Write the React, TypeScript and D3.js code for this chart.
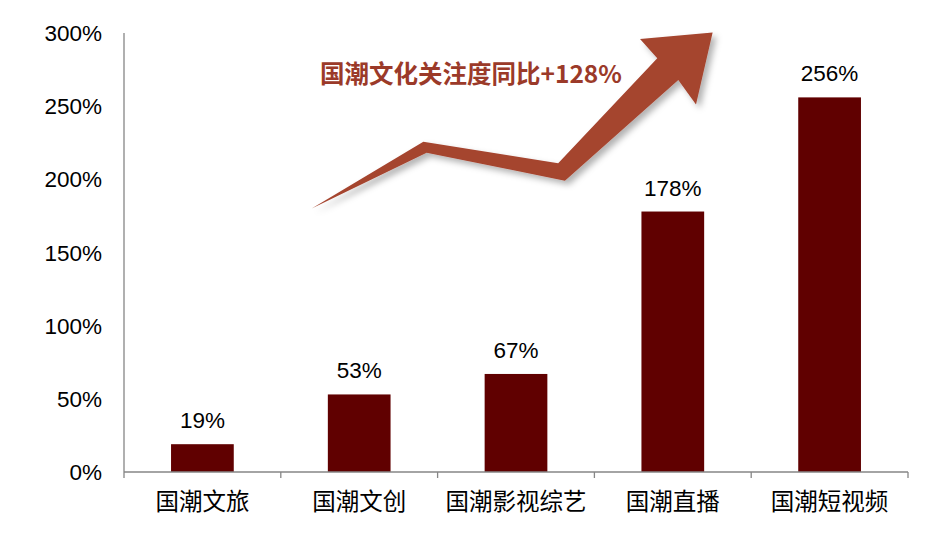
import React from 'react';
import * as d3 from 'd3';

const categories = ['国潮文旅', '国潮文创', '国潮影视综艺', '国潮直播', '国潮短视频'];
const values = [19, 53, 67, 178, 256];
const yTicks = [0, 50, 100, 150, 200, 250, 300];
const annotation = '国潮文化关注度同比+128%';

// arrow outline in chart units: [category position, percent]
const arrowU = [1.197, 1.909, 2.769, 3.401, 3.291, 3.754, 3.648, 3.535, 2.812, 1.93];
const arrowV = [180, 225.7, 211, 282.7, 295.9, 300.3, 251.2, 267.9, 199.1, 218.2];

const width = 951;
const height = 538;
const margin = { top: 33, right: 43, bottom: 66, left: 124 };

const App: React.FC = () => {
  const innerW = width - margin.left - margin.right;
  const innerH = height - margin.top - margin.bottom;

  const x = d3.scaleBand<string>().domain(categories).range([0, innerW]).paddingInner(0.6).paddingOuter(0.3);
  const xLin = d3.scaleLinear().domain([0, categories.length]).range([0, innerW]);
  const y = d3.scaleLinear().domain([0, 300]).range([innerH, 0]);

  const arrowPath = d3.line<number>()
    .x((_, i) => xLin(arrowU[i]))
    .y(d => y(d))(arrowV) + 'Z';

  const step = innerW / categories.length;

  return (
    <svg width={width} height={height} style={{ position: 'absolute', left: 0, top: 0 }}>
      <defs>
        <filter id="arrow-shadow" x="-20%" y="-20%" width="140%" height="140%">
          <feDropShadow dx="4" dy="4" stdDeviation="3" floodColor="#000" floodOpacity="0.3" />
        </filter>
      </defs>
      <rect width={width} height={height} fill="#fff" />
      <g transform={`translate(${margin.left},${margin.top})`}>
        {/* y tick labels */}
        {yTicks.map(t => (
          <text key={t} x={-22} y={y(t)} dy="0.36em" textAnchor="end"
            fontFamily="Liberation Sans, Arial, sans-serif" fontSize={22.5} fill="#000">
            {t}%
          </text>
        ))}

        {/* bars */}
        {categories.map((c, i) => (
          <rect key={c} x={x(c)} y={y(values[i])} width={x.bandwidth()} height={innerH - y(values[i])} fill="#600000" />
        ))}

        {/* value labels */}
        {categories.map((c, i) => (
          <text key={c} x={(x(c) as number) + x.bandwidth() / 2} y={y(values[i]) - 16} textAnchor="middle"
            fontFamily="Liberation Sans, Arial, sans-serif" fontSize={22.5} fill="#000">
            {values[i]}%
          </text>
        ))}

        {/* axes */}
        <line x1={0} x2={0} y1={0} y2={innerH} stroke="#868686" strokeWidth={1.3} />
        <line x1={0} x2={innerW} y1={innerH} y2={innerH} stroke="#868686" strokeWidth={1.3} />
        {d3.range(categories.length + 1).map(i => (
          <line key={i} x1={i * step} x2={i * step} y1={innerH} y2={innerH + 6} stroke="#868686" strokeWidth={1.3} />
        ))}
        {categories.map(c => (
          <text key={c} x={(x(c) as number) + x.bandwidth() / 2} y={innerH + 38} textAnchor="middle"
            fontFamily="Noto Sans CJK SC, sans-serif" fontSize={23.5} fill="#000">
            {c}
          </text>
        ))}

        {/* growth arrow */}
        <path d={arrowPath} fill="#a5442f" filter="url(#arrow-shadow)" />
      </g>
      <text x={320} y={83} fontFamily="Noto Sans CJK SC, sans-serif" fontWeight="bold" fontSize={24.5} fill="#9b3a29">
        {annotation}
      </text>
    </svg>
  );
};

export default App;
